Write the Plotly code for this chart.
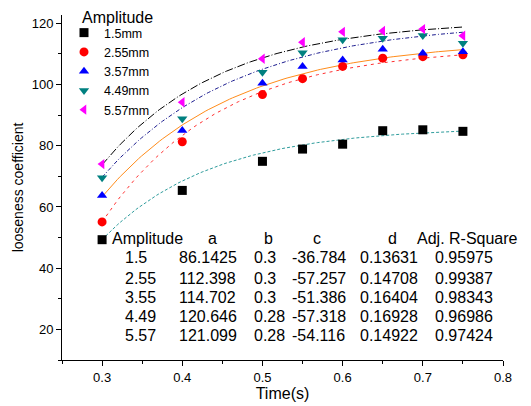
import numpy as np
import plotly.graph_objects as go

# measured points
time_s = [0.3, 0.4, 0.5, 0.55, 0.6, 0.65, 0.7, 0.75]
amp_labels = ["1.5mm", "2.55mm", "3.57mm", "4.49mm", "5.57mm"]
loose_15 = [49.3, 65.4, 74.9, 78.9, 80.5, 84.9, 85.2, 84.7]
loose_255 = [55.1, 81.3, 96.7, 101.9, 105.9, 108.6, 109.1, 109.7]
loose_357 = [63.7, 85.0, 100.4, 105.9, 108.0, 111.5, 110.2, 110.7]
loose_449 = [69.5, 88.8, 104.0, 110.4, 114.6, 115.1, 116.0, 113.5]
loose_557 = [74.0, 94.2, 108.4, 113.8, 117.2, 117.5, 118.1, 115.9]

# fit table (y = a + c*exp(-(x-b)/d))
tbl_amp = ["1.5", "2.55", "3.55", "4.49", "5.57"]
tbl_a = ["86.1425", "112.398", "114.702", "120.646", "121.099"]
tbl_b = ["0.3", "0.3", "0.3", "0.28", "0.28"]
tbl_c = ["-36.784", "-57.257", "-51.386", "-57.318", "-54.116"]
tbl_d = ["0.13631", "0.14708", "0.16404", "0.16928", "0.14922"]
tbl_r2 = ["0.95975", "0.99387", "0.98343", "0.96986", "0.97424"]

series = [loose_15, loose_255, loose_357, loose_449, loose_557]
symbols = ["square", "circle", "triangle-up", "triangle-down", "triangle-left"]
mcolors = ["#000000", "#ff0000", "#0000ff", "#008080", "#ff00ff"]
fcolors = ["#2e9c9c", "#ff3030", "#ff8c1a", "#1c1c8f", "#000000"]
fdash = ["3px,2px", "3px,4px", "solid", "4px,2px,1px,2px", "8px,2px,1px,2px"]

FONT = "Arial, Liberation Sans, sans-serif"

fig = go.Figure()

xf = np.linspace(0.3, 0.75, 120)
for i in range(5):
    a, b, c, d = float(tbl_a[i]), float(tbl_b[i]), float(tbl_c[i]), float(tbl_d[i])
    fig.add_trace(go.Scatter(x=xf, y=a + c * np.exp(-(xf - b) / d), mode="lines",
                             line=dict(color=fcolors[i], width=1, dash=fdash[i]),
                             showlegend=False, hoverinfo="skip"))

for i in range(5):
    fig.add_trace(go.Scatter(x=time_s, y=series[i], mode="markers", name=amp_labels[i],
                             marker=dict(symbol=symbols[i], size=9, color=mcolors[i])))

# plot area in page pixels (page has an 8px body margin)
OFF = 8
L, R, T, B = 62, 503, 15, 360
def px(x):
    return (x - L) / (R - L)
def py(y):
    return (B - y) / (B - T)

headers = [("Amplitude", 110, "left"), ("a", 212, "center"), ("b", 268, "center"),
           ("c", 317, "center"), ("d", 392, "center"), ("Adj. R-Square", 415, "left")]
for h, x, anc in headers:
    fig.add_annotation(text=h, x=px(x), y=py(239), xref="paper", yref="paper",
                       xanchor=anc, yanchor="middle", showarrow=False,
                       font=dict(size=16, color="black", family=FONT))

cols = [tbl_amp, tbl_a, tbl_b, tbl_c, tbl_d, tbl_r2]
col_x = [123, 177, 252, 290, 358, 433]
row_y = [258, 278, 297, 316, 335]
for ci, col in enumerate(cols):
    for ri, v in enumerate(col):
        fig.add_annotation(text=v, x=px(col_x[ci]), y=py(row_y[ri]), xref="paper", yref="paper",
                           xanchor="left", yanchor="middle", showarrow=False,
                           font=dict(size=16, color="black", family=FONT))

fig.add_annotation(text="Amplitude", x=px(80), y=py(17), xref="paper", yref="paper",
                   xanchor="left", yanchor="middle", showarrow=False,
                   font=dict(size=16, color="black", family=FONT))

fig.update_layout(
    width=531 - OFF, height=406 - OFF,
    margin=dict(l=L - OFF, r=531 - R, t=T - OFF, b=406 - B),
    plot_bgcolor="white", paper_bgcolor="white",
    font=dict(family=FONT, color="black", size=13),
    legend=dict(x=px(64), y=py(18), xanchor="left", yanchor="top",
                bgcolor="rgba(0,0,0,0)", font=dict(size=12.5), tracegroupgap=0),
    xaxis=dict(range=[0.25, 0.8], tick0=0.3, dtick=0.1, tickformat=".1f",
               automargin=False,
               showgrid=False, zeroline=False, showline=True, linecolor="black",
               ticks="outside", ticklen=5, tickcolor="black",
               minor=dict(dtick=0.05, ticks="outside", ticklen=3, tickcolor="black"),
               title=dict(text="Time(s)", font=dict(size=16), standoff=4)),
    yaxis=dict(range=[10, 122.7], tick0=20, dtick=20, automargin=False,
               showgrid=False, zeroline=False, showline=True, linecolor="black",
               ticks="outside", ticklen=5, tickcolor="black",
               minor=dict(dtick=10, ticks="outside", ticklen=3, tickcolor="black"),
               title=dict(text="looseness coefficient", font=dict(size=14), standoff=4)),
)

fig.write_html("out.html")
